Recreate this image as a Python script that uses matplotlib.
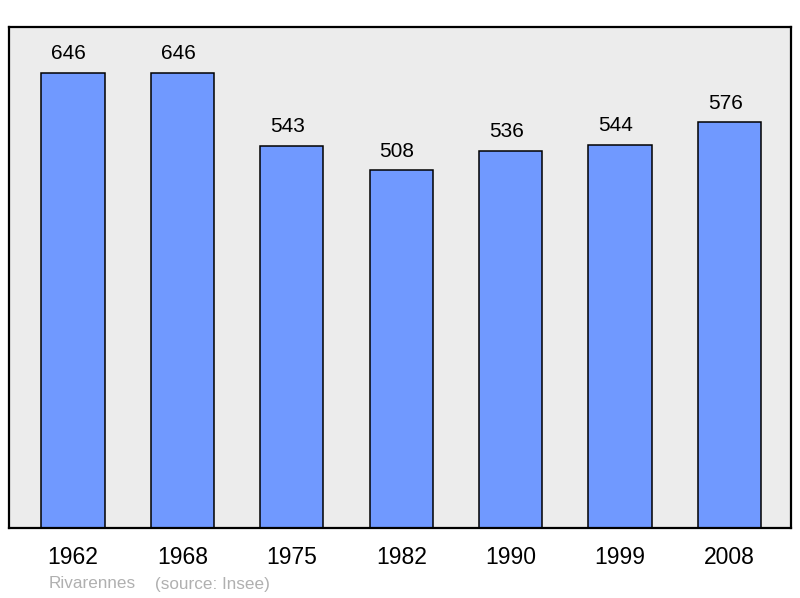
import matplotlib

matplotlib.use("Agg")
import matplotlib.pyplot as plt

# population of Rivarennes (Insee)
years = ["1962", "1968", "1975", "1982", "1990", "1999", "2008"]
population = [646, 646, 543, 508, 536, 544, 576]

plt.rcParams["font.family"] = ["Liberation Sans", "DejaVu Sans"]

fig = plt.figure(figsize=(8, 5.98), dpi=100)
ax = fig.add_axes([9 / 800, 70 / 598, 782 / 800, 501 / 598])
ax.set_facecolor("#ececec")

x = range(len(years))
ax.bar(x, population, width=0.578, color="#7099ff", edgecolor="black",
       linewidth=1.1, zorder=2)
# value labels sit a little left of the bar centre, as in the original
for xi, v in zip(x, population):
    ax.annotate(str(v), (xi, v), xytext=(-3.1, 7), textcoords="offset points",
                ha="center", va="bottom", fontsize=15)

ax.set_xlim(-0.585, len(years) - 1 + 0.562)
ax.set_ylim(0, 711.6)
ax.set_xticks(list(x))
ax.set_xticklabels(years, fontsize=16.5)
ax.tick_params(axis="x", length=0, pad=13)
ax.set_yticks([])
for s in ax.spines.values():
    s.set_linewidth(1.6)

fig.text(49 / 800, 1 - 584 / 598, "Rivarennes", color="#b0b0b0",
         fontsize=12.3, va="center")
fig.text(155 / 800, 1 - 584 / 598, "(source: Insee)", color="#b0b0b0",
         fontsize=12.3, va="center")

fig.savefig("out.png", dpi=100)
